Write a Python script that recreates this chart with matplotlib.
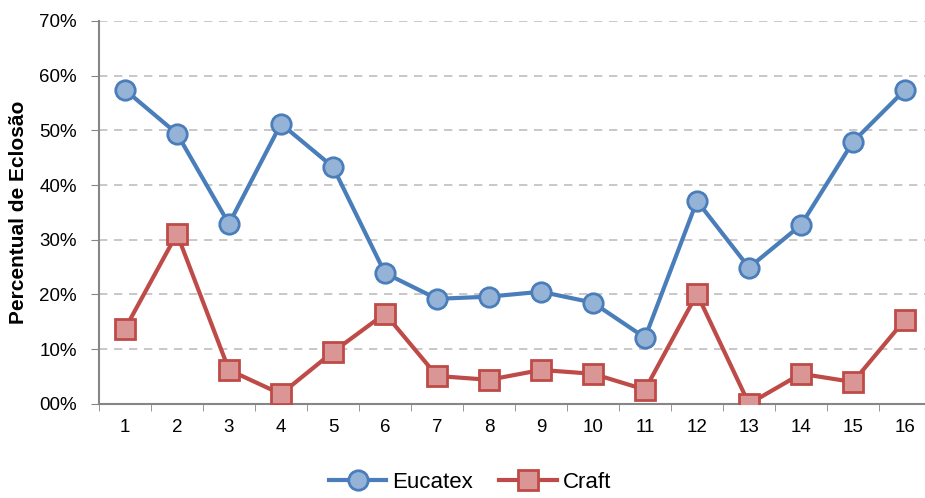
import matplotlib
matplotlib.use("Agg")
import matplotlib.pyplot as plt
from matplotlib.ticker import FixedLocator, FuncFormatter

plt.rcParams['font.family'] = ['Liberation Sans', 'DejaVu Sans']

# data (percent)
categories = list(range(1, 17))
eucatex = [57.4, 49.4, 32.9, 51.2, 43.3, 23.9, 19.2, 19.6, 20.5, 18.5, 12.1, 37.1, 24.9, 32.7, 47.9, 57.4]
craft = [13.7, 31.1, 6.2, 1.8, 9.5, 16.5, 5.1, 4.4, 6.2, 5.5, 2.6, 20.1, 0.0, 5.5, 4.0, 15.4]
y_ticks = [0, 10, 20, 30, 40, 50, 60, 70]

fig = plt.figure(figsize=(9.25, 4.98), dpi=100)
ax = fig.add_axes([0.107, 0.189, 0.8995, 0.769])

ax.plot(categories, eucatex, color='#4A7EBB', lw=3, marker='o', ms=14,
        mfc='#95B3D7', mec='#4A7EBB', mew=2, label='Eucatex', zorder=3)
ax.plot(categories, craft, color='#BE4B48', lw=3, marker='s', ms=14,
        mfc='#D99694', mec='#BE4B48', mew=2, label='Craft', zorder=3)

ax.set_xlim(0.5, 16.5)
ax.set_ylim(0, 70)
ax.set_yticks(y_ticks)
ax.yaxis.set_major_formatter(FuncFormatter(lambda v, p: '%02d%%' % v))
ax.set_xticks(categories)
ax.xaxis.set_minor_locator(FixedLocator([i + 0.5 for i in range(0, 17)]))
ax.tick_params(axis='x', which='major', length=0, labelsize=13.5, pad=11)
ax.tick_params(axis='x', which='minor', length=5, color='#868686', direction='out')
ax.tick_params(axis='y', length=6, color='#868686', labelsize=13.5, pad=10)

ax.grid(axis='y', color='#BFBFBF', linestyle=(0, (5, 4)), lw=1.2)
ax.set_axisbelow(True)
for s in ['top', 'right']:
    ax.spines[s].set_visible(False)
for s in ['left', 'bottom']:
    ax.spines[s].set_color('#868686')
    ax.spines[s].set_linewidth(1.5)

ax.set_ylabel('Percentual de Eclosão', fontsize=15, fontweight='bold', labelpad=8)

fig.legend(loc='center', bbox_to_anchor=(0.508, 0.032), ncol=2, frameon=False,
           fontsize=16, handlelength=2.6, columnspacing=1.2, handletextpad=0.25)

fig.savefig('out.png', dpi=100)
